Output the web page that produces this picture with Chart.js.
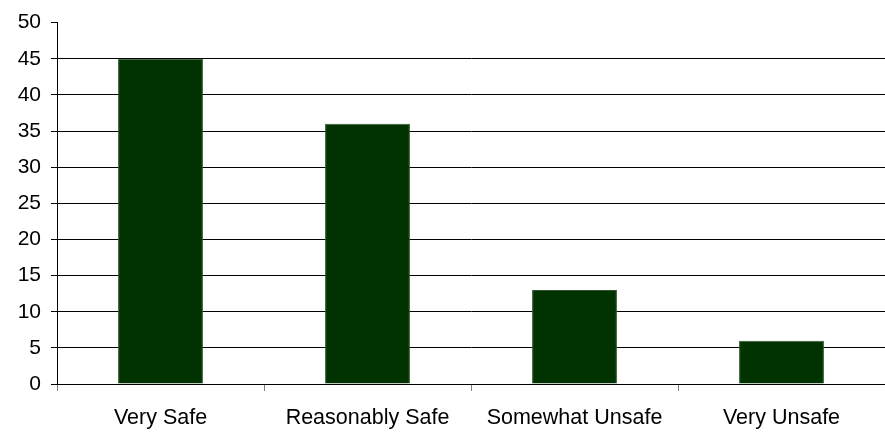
<!DOCTYPE html>
<html>
<head>
<meta charset="utf-8">
<script src="https://cdn.jsdelivr.net/npm/chart.js@4/dist/chart.umd.min.js"></script>
<style>
html,body{margin:0;padding:0;background:#fff;}
#wrap{width:885px;height:432px;position:relative;}
</style>
</head>
<body>
<div id="wrap"><canvas id="c" width="885" height="432"></canvas></div>
<script>
const categories = ["Very Safe", "Reasonably Safe", "Somewhat Unsafe", "Very Unsafe"];
const values = [45, 36, 13, 6];
const yMin = 0, yMax = 50, yStep = 5;

new Chart(document.getElementById('c'), {
  type: 'bar',
  data: {
    labels: categories,
    datasets: [{
      data: values,
      backgroundColor: '#003300',
      borderColor: '#2f5a2f',
      borderWidth: 1,
      categoryPercentage: 0.82,
      barPercentage: 0.5
    }]
  },
  options: {
    responsive: false,
    animation: false,
    events: [],
    layout: { padding: { top: 20, left: 0, right: 0, bottom: 0 } },
    plugins: { legend: { display: false }, tooltip: { enabled: false } },
    scales: {
      x: {
        grid: {
          offset: true,
          drawOnChartArea: false,
          drawTicks: true,
          tickLength: 7,
          tickColor: '#808080',
          lineWidth: 1
        },
        border: { display: true, color: '#000', width: 1 },
        ticks: {
          color: '#000',
          font: { family: 'Liberation Sans', size: 21.5 },
          padding: 14,
          maxRotation: 0,
          autoSkip: false
        },
        afterFit: s => { s.height = 48; }
      },
      y: {
        min: yMin,
        max: yMax,
        grid: {
          color: ctx => (ctx.tick && ctx.tick.value === yMax) ? 'rgba(0,0,0,0)' : '#000',
          tickColor: '#000',
          tickLength: 6,
          lineWidth: 1
        },
        border: { display: true, color: '#000', width: 1 },
        ticks: {
          stepSize: yStep,
          color: '#000',
          font: { family: 'Liberation Sans', size: 21 },
          padding: 10
        },
        afterFit: s => { s.width = 57; }
      }
    }
  }
});
</script>
</body>
</html>
